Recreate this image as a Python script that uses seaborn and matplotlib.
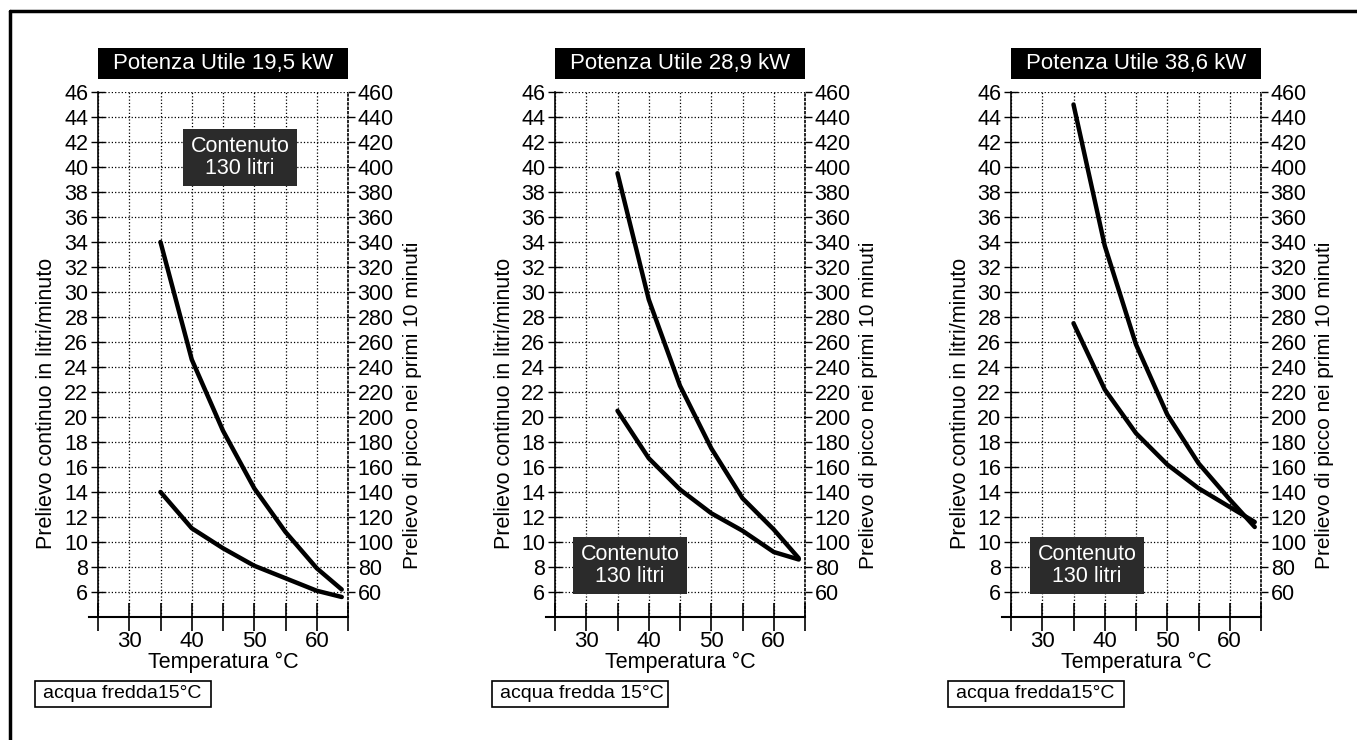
import matplotlib
matplotlib.use("Agg")
import matplotlib.pyplot as plt
import seaborn as sns
from matplotlib.patches import Rectangle
from matplotlib.lines import Line2D

# Temperature di prelievo (°C)
temperature = [35, 40, 45, 50, 55, 60, 64]

# Potenza utile dei tre modelli
potenze = ["19,5", "28,9", "38,6"]
acqua = ["acqua fredda15°C", "acqua fredda 15°C", "acqua fredda15°C"]

# Prelievo di picco nei primi 10 minuti (litri) - asse destro
picco_19 = [340, 246, 189, 143, 108, 79, 62]
picco_28 = [395, 294, 225, 175, 135, 110, 87]
picco_38 = [450, 337, 258, 202, 163, 134, 112]

# Prelievo continuo (litri/minuto) - asse sinistro
continuo_19 = [14.0, 11.1, 9.5, 8.1, 7.1, 6.1, 5.6]
continuo_28 = [20.5, 16.7, 14.2, 12.3, 10.9, 9.2, 8.6]
continuo_38 = [27.5, 22.2, 18.7, 16.2, 14.3, 12.8, 11.6]

picchi = [picco_19, picco_28, picco_38]
continui = [continuo_19, continuo_28, continuo_38]

sns.set_style("white")
plt.rcParams['font.family'] = ['Liberation Sans', 'DejaVu Sans']
plt.rcParams['axes.edgecolor'] = 'black'
plt.rcParams['xtick.color'] = 'black'
plt.rcParams['ytick.color'] = 'black'
plt.rcParams['text.color'] = 'black'

W, H = 1357, 740
fig = plt.figure(figsize=(W / 100, H / 100), dpi=100)


def fx(x):
    return x / W


def fy(y):
    return 1 - y / H


lefts = [98, 555, 1011]
top, bottom, width = 92, 617, 250
contenuto_pos = [(183, 129), (573, 537), (1030, 537)]
acqua_x = [35, 492, 948]

for i in range(3):
    left = lefts[i]
    ax = fig.add_axes([fx(left), fy(bottom), width / W, (bottom - top) / H])
    ax2 = ax.twinx()

    sns.lineplot(x=temperature, y=continui[i], ax=ax, color='black', linewidth=3.2)
    sns.lineplot(x=temperature, y=picchi[i], ax=ax2, color='black', linewidth=3.2)

    ax.set_xlim(25, 65)
    ax.set_ylim(4, 46)
    ax2.set_ylim(40, 460)
    xt = list(range(25, 66, 5))
    ax.set_xticks(xt)
    ax.set_xticklabels(['' if t % 10 else str(t) for t in xt])
    ax.set_yticks(range(6, 47, 2))
    ax2.set_yticks(range(60, 461, 20))
    ax.grid(True, linestyle=':', color='black', linewidth=0.9)

    ax.tick_params(axis='x', bottom=True, direction='inout', length=20, width=1.2,
                   labelsize=16, pad=0)
    ax.tick_params(axis='y', left=True, direction='inout', length=10, width=1,
                   labelsize=15.5, pad=2)
    ax2.tick_params(axis='y', right=True, direction='out', length=5, width=1,
                    labelsize=15.5, pad=2)

    for s in ['top', 'right']:
        ax.spines[s].set_visible(False)
    for s in ['top', 'left', 'bottom']:
        ax2.spines[s].set_visible(False)
    ax2.spines['right'].set_linestyle(':')
    ax2.spines['right'].set_linewidth(1.2)
    ax.spines['left'].set_linewidth(1.2)
    ax.spines['bottom'].set_linewidth(1.5)
    ax.spines['bottom'].set_bounds(23.5, 65)
    ax.set_xlabel('')
    ax.set_ylabel('')
    ax2.set_ylabel('')

    # etichette assi
    fig.text(fx(left - 51), fy(403), 'Prelievo continuo in litri/minuto', rotation=90,
             ha='center', va='center', fontsize=15.5)
    fig.text(fx(left + 314), fy(405), 'Prelievo di picco nei primi 10 minuti', rotation=90,
             ha='center', va='center', fontsize=15)
    fig.text(fx(left + 125), fy(662), 'Temperatura °C', ha='center', va='center', fontsize=15.5)

    # titolo
    fig.add_artist(Rectangle((fx(left), fy(79)), width / W, 31 / H,
                             transform=fig.transFigure, facecolor='black', edgecolor='none'))
    fig.text(fx(left + 125), fy(63.5), f'Potenza Utile {potenze[i]} kW', color='white',
             ha='center', va='center', fontsize=16)

    # contenuto
    cx, cy = contenuto_pos[i]
    fig.add_artist(Rectangle((fx(cx), fy(cy + 57)), 114 / W, 57 / H,
                             transform=fig.transFigure, facecolor='#2b2b2b', edgecolor='none'))
    fig.text(fx(cx + 57), fy(cy + 28.5), 'Contenuto\n130 litri', color='white',
             ha='center', va='center', fontsize=15.5, linespacing=1.1)

    # acqua fredda
    ax_ = acqua_x[i]
    fig.add_artist(Rectangle((fx(ax_), fy(707)), 176 / W, 26 / H,
                             transform=fig.transFigure, facecolor='white',
                             edgecolor='black', linewidth=1.2))
    fig.text(fx(ax_ + 8), fy(694), acqua[i], ha='left', va='center', fontsize=14)

# cornice
fig.add_artist(Line2D([fx(10), 1], [fy(11), fy(11)], transform=fig.transFigure,
                      color='black', linewidth=2.5))
fig.add_artist(Line2D([fx(10), fx(10)], [fy(11), 0], transform=fig.transFigure,
                      color='black', linewidth=2.5))

fig.savefig('out.png', dpi=100)
